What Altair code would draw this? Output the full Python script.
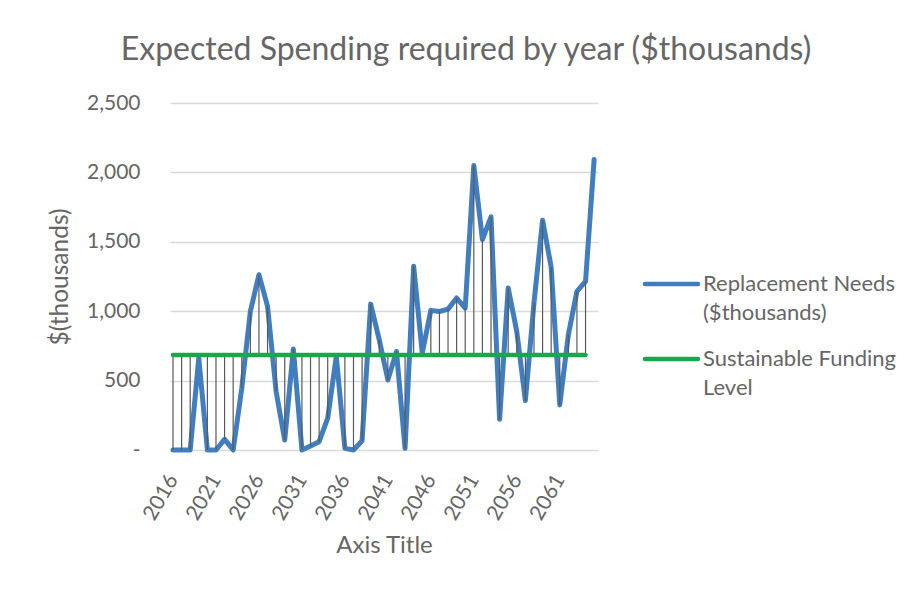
import altair as alt
import pandas as pd

# ---- data ----
years = list(range(2016, 2066))
replacement_needs = [
    0, 0, 0, 662, 0, 0, 77, 0, 445, 998,
    1263, 1035, 421, 72, 727, 0, 29, 60, 229, 674,
    12, 0, 67, 1051, 794, 505, 710, 12, 1323, 698,
    1006, 998, 1015, 1095, 1023, 2050, 1516, 1679, 221, 1167,
    854, 356, 1059, 1655, 1318, 325, 830, 1143, 1215, 2093,
]
funding_years = list(range(2016, 2065))
funding_level = [685] * len(funding_years)

x_tick_values = [2016, 2021, 2026, 2031, 2036, 2041, 2046, 2051, 2056, 2061]
y_tick_values = [0, 500, 1000, 1500, 2000, 2500]

S1 = "Replacement Needs ($thousands)"
S2 = "Sustainable Funding Level"
legend_lines = {S1: ["Replacement Needs", "($thousands)"], S2: ["Sustainable Funding", "Level"]}

blue_df = pd.DataFrame({"year": years, "value": replacement_needs, "series": S1})
green_df = pd.DataFrame({"year": funding_years, "value": funding_level, "series": S2})
drops_df = pd.DataFrame({
    "year": funding_years,
    "a": replacement_needs[:len(funding_years)],
    "b": funding_level,
})

FONT = "Lato"
TXT = "#666666"
BLUE = "#407EC0"
GREEN = "#1AA64A"

x_enc = alt.X(
    "year:Q",
    scale=alt.Scale(domain=[2015.65, 2065.45], nice=False, zero=False),
    axis=alt.Axis(
        values=x_tick_values, format="d", labelAngle=-60, labelFontSize=21,
        labelFont=FONT, labelColor=TXT, labelPadding=26, domain=False, ticks=False,
        grid=False, title="Axis Title", titleFont=FONT, titleFontSize=24,
        titleFontWeight="normal", titleColor=TXT, titlePadding=10,
    ),
)
y_enc = alt.Y(
    "value:Q",
    scale=alt.Scale(domain=[0, 2500], nice=False),
    axis=alt.Axis(
        values=y_tick_values,
        labelExpr="datum.value == 0 ? '-' : format(datum.value, ',')",
        labelFontSize=21, labelFont=FONT, labelColor=TXT, labelPadding=30,
        domain=False, ticks=False, grid=True, gridColor="#d9d9d9", gridWidth=1.3,
        title="$(thousands)", titleFont=FONT, titleFontSize=24.5,
        titleFontWeight="normal", titleColor=TXT, titlePadding=14,
    ),
)
color_scale = alt.Scale(domain=[S1, S2], range=[BLUE, GREEN])

blue = alt.Chart(blue_df).mark_line(strokeWidth=5, strokeCap="round", strokeJoin="round").encode(
    x=x_enc, y=y_enc, color=alt.Color("series:N", scale=color_scale, legend=None)
)
drops = alt.Chart(drops_df).mark_rule(color="#595959", strokeWidth=1.2).encode(
    x="year:Q", y="a:Q", y2="b:Q"
)
green = alt.Chart(green_df).mark_line(strokeWidth=4.5, strokeCap="round").encode(
    x="year:Q", y="value:Q", color=alt.Color("series:N", scale=color_scale, legend=None)
)

# ---- legend (drawn as marks, to allow two-line labels) ----
legend_layers = []
for i, name in enumerate([S1, S2]):
    yy = 181 + i * 75
    src = pd.DataFrame({"series": [name]})
    legend_layers.append(
        alt.Chart(src).mark_rule(strokeWidth=4.5, strokeCap="round").encode(
            x=alt.value(475), x2=alt.value(528), y=alt.value(yy),
            color=alt.Color("series:N", scale=color_scale, legend=None),
        )
    )
    legend_layers.append(
        alt.Chart(src).mark_text(
            align="left", baseline="middle", font=FONT, fontSize=22, color=TXT,
            lineHeight=29, text=legend_lines[name],
        ).encode(x=alt.value(533), y=alt.value(yy))
    )

chart = alt.layer(blue, drops, green, *legend_layers).properties(
    width=428,
    height=347,
    autosize=alt.AutoSizeParams(type="none"),
    padding={"left": 162, "top": 95, "right": 306, "bottom": 133},
    title=alt.TitleParams(
        text="Expected Spending required by year ($thousands)",
        font=FONT, fontSize=32, fontWeight="normal", color=TXT,
        anchor="middle", dx=82, offset=25,
    ),
).configure(background="white").configure_view(stroke=None)

chart.save("out.html", embed_options={"renderer": "svg", "actions": False})
